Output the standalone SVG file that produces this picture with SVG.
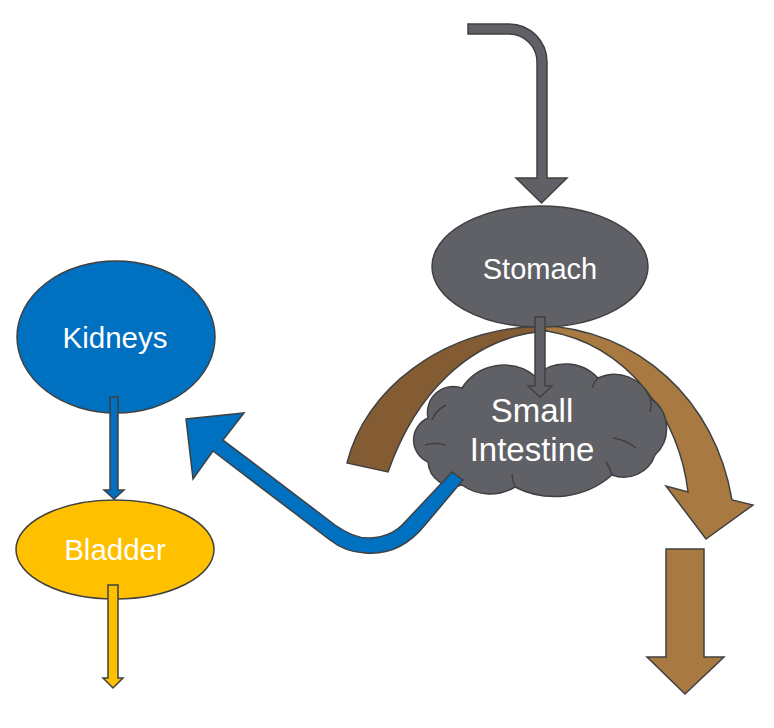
<svg xmlns="http://www.w3.org/2000/svg" width="774" height="728" viewBox="0 0 774 728">
<style>
.lbl{font-family:"Liberation Sans",Arial,sans-serif;fill:#ffffff;text-anchor:middle}
.grey{fill:#606166;stroke:#404040;stroke-width:1.5;stroke-linejoin:miter}
.blue{fill:#0070C0;stroke:#404040;stroke-width:1.5}
.gold{fill:#FFC000;stroke:#404040;stroke-width:1.5}
.dbrown{fill:#845C34;stroke:#404040;stroke-width:1.5}
.lbrown{fill:#A87A42;stroke:#404040;stroke-width:1.5}
.inner{fill:none;stroke:#404040;stroke-width:1.5}
</style>
<rect width="774" height="728" fill="#ffffff"/>
<g id="back-arrows">
  <path class="dbrown" d="M347,463 C365,390 440,330 540,326 L547,331 C470,336 415,395 388,472 Z"/>
  <path class="lbrown" d="M538,325 C640,330 715,400 732,500 L753,505 L706,539 L666,486 L688,492 C680,420 630,345 547,331 Z"/>
</g>
<g id="stomach">
  <ellipse class="grey" cx="540" cy="266.5" rx="108" ry="60.5"/>
  <text class="lbl" x="540" y="279" font-size="29">Stomach</text>
</g>
<g id="small-intestine">
  <path class="grey" d="M428,462 A24,24 0 0 1 428,418 A26,26 0 0 1 462,388 A50,50 0 0 1 535,376 A44.7,44.7 0 0 1 598,378 A38.4,38.4 0 0 1 650,398 A36.2,36.2 0 0 1 655,455 A33,33 0 0 1 612,475 A87,87 0 0 1 515,487 A48,48 0 0 1 462,485 A26,26 0 0 1 428,462 Z"/>
  <path class="inner" d="M425,445 Q435,442 446,445"/>
  <path class="inner" d="M432,420 Q436,410 446,405"/>
  <path class="inner" d="M535,376 Q540,380 542,386"/>
  <path class="inner" d="M598,378 Q594,382 592,388"/>
  <path class="inner" d="M650,398 Q652,405 650,412"/>
  <path class="inner" d="M613,438 Q626,440 636,448"/>
  <path class="inner" d="M612,475 Q610,468 606,462"/>
  <path class="inner" d="M515,487 Q512,480 512,474"/>
  <text class="lbl" x="532" y="422" font-size="33">Small</text>
  <text class="lbl" x="532" y="461" font-size="33">Intestine</text>
</g>
<g id="kidneys">
  <ellipse class="blue" cx="116" cy="337" rx="99" ry="76"/>
  <text class="lbl" x="115" y="348" font-size="29.5">Kidneys</text>
</g>
<g id="bladder">
  <ellipse class="gold" cx="115" cy="549.5" rx="99" ry="49.5"/>
  <text class="lbl" x="115" y="560" font-size="29.5">Bladder</text>
</g>
<g id="connectors">
  <path class="grey" d="M468,24 L509,24 A38,38 0 0 1 547,62 L547,178 L567,178 L541.5,203 L516,178 L537,178 L537,62 A28,28 0 0 0 509,34 L468,34 Z"/>
  <path class="grey" d="M535,317 L545,317 L545,386 L552,386 L540,397 L528,386 L535,386 Z"/>
  <path class="blue" d="M452,472 L463,480 L425,525 Q400,556 365,553 Q345,552 330,540 L213,451 L193,479 L186,419 L244,413 L223,440 L335,525 Q355,539 370,538 Q392,537 405,522 Z"/>
  <path class="blue" d="M110,397 L118,397 L118,490 L124,490 L114,499 L104,490 L110,490 Z"/>
  <path class="gold" d="M108,585 L118,585 L118,678 L123,678 L113,688 L103,678 L108,678 Z"/>
  <path class="lbrown" d="M666,549 L704,549 L704,657 L724,657 L685,694 L647,657 L666,657 Z"/>
</g>
</svg>
